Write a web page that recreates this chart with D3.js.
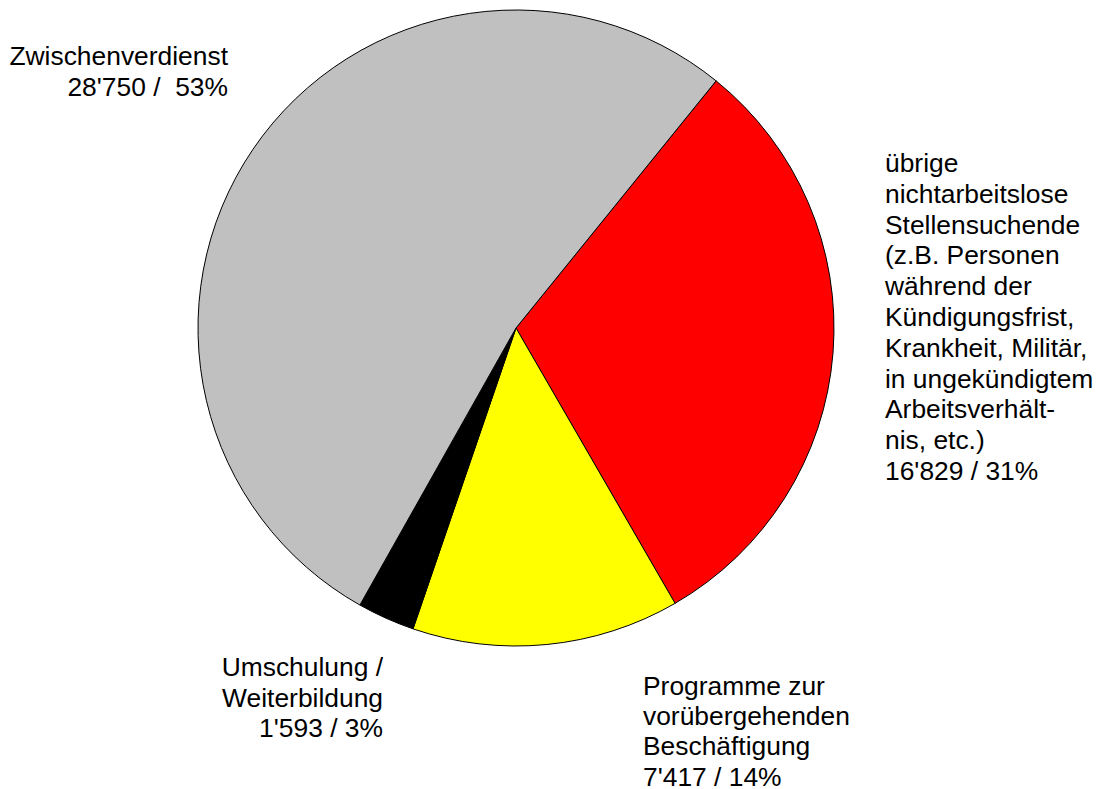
<!DOCTYPE html>
<html>
<head>
<meta charset="utf-8">
<script src="https://cdn.jsdelivr.net/npm/d3@7"></script>
<style>
  body { margin: 0; background: #fff; }
  text { font-family: "Liberation Sans", Arial, sans-serif; font-size: 26.4px; fill: #000; }
</style>
</head>
<body>
<div id="chart"></div>
<script>
var width = 1100, height = 789;

// data, in clockwise order starting at the red slice
var categories = ["übrige nichtarbeitslose Stellensuchende", "Programme zur vorübergehenden Beschäftigung", "Umschulung / Weiterbildung", "Zwischenverdienst"];
var values = [16829, 7417, 1593, 28750];
var colors = ["#ff0000", "#ffff00", "#000000", "#c0c0c0"];

// label lines and placement per slice
var labelLines = [
  ["übrige", "nichtarbeitslose", "Stellensuchende", "(z.B. Personen", "während der", "Kündigungsfrist,", "Krankheit, Militär,", "in ungekündigtem", "Arbeitsverhält-", "nis, etc.)", "16'829 / 31%"],
  ["Programme zur", "vorübergehenden", "Beschäftigung", "7'417 / 14%"],
  ["Umschulung /", "Weiterbildung", "1'593 / 3%"],
  ["Zwischenverdienst", "28'750 /  53%"]
];
var labelPos = [
  { x: 885, y: 172, anchor: "start", lh: 30.8 },
  { x: 643, y: 695, anchor: "start", lh: 30.2 },
  { x: 383, y: 676, anchor: "end", lh: 30.5 },
  { x: 228, y: 65, anchor: "end", lh: 30.5 }
];

var cx = 516, cy = 328, radius = 318;

var svg = d3.select("#chart")
  .append("svg")
  .attr("width", width)
  .attr("height", height);

var pie = d3.pie()
  .sort(null)
  .startAngle(39 * Math.PI / 180)
  .endAngle(39 * Math.PI / 180 + 2 * Math.PI);

var arc = d3.arc()
  .innerRadius(0)
  .outerRadius(radius);

var g = svg.append("g")
  .attr("transform", "translate(" + cx + "," + cy + ")");

g.selectAll("path")
  .data(pie(values))
  .enter()
  .append("path")
  .attr("d", arc)
  .style("fill", (d, i) => colors[i])
  .style("stroke", "#000")
  .style("stroke-width", 1);

// labels
var labels = svg.selectAll("text.lbl")
  .data(labelLines)
  .enter()
  .append("text")
  .attr("class", "lbl")
  .attr("text-anchor", (d, i) => labelPos[i].anchor);

labels.each(function (lines, i) {
  var t = d3.select(this);
  lines.forEach((line, j) => {
    t.append("tspan")
      .attr("x", labelPos[i].x)
      .attr("y", labelPos[i].y + j * labelPos[i].lh)
      .style("white-space", "pre")
      .text(line);
  });
});
</script>
</body>
</html>
